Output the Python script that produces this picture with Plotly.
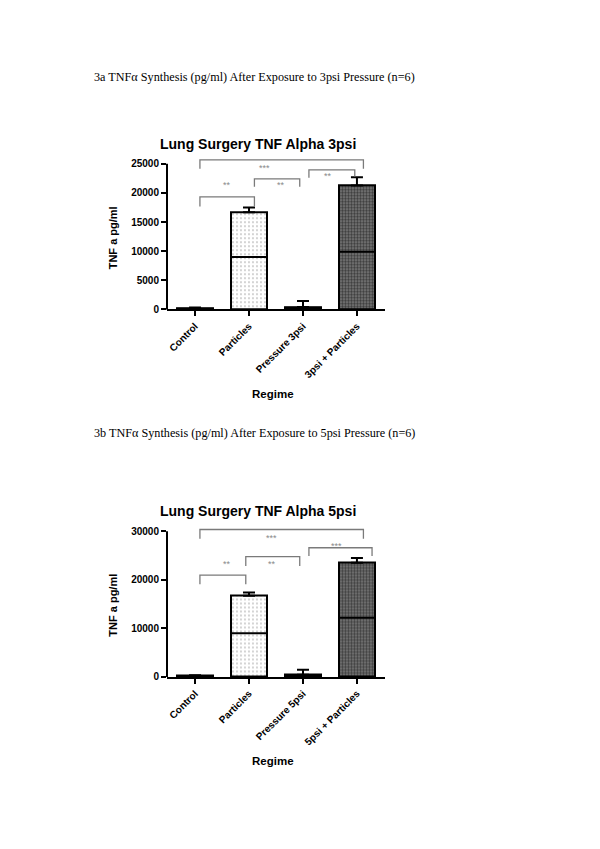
import plotly.graph_objects as go

# ---------------- data ----------------
categories_a = ["Control", "Particles", "Pressure 3psi", "3psi + Particles"]
means_a = [250, 16700, 450, 21300]
medians_a = [150, 9000, 300, 9900]
err_up_a = [100, 800, 1000, 1400]

categories_b = ["Control", "Particles", "Pressure 5psi", "5psi + Particles"]
means_b = [250, 16700, 450, 23500]
medians_b = [150, 9000, 300, 12200]
err_up_b = [100, 700, 1000, 1000]

yticks_a = [0, 5000, 10000, 15000, 20000, 25000]
yticks_b = [0, 10000, 20000, 30000]

# significance brackets: (from, to, line y, drop y left, drop y right, label, label x, label y)
sig_a = [
    (0.09, 3.12, 25680, 24150, 24150, "***", 1.28, 24320),
    (0.09, 1.10, 19330, 17670, 17670, "**", 0.59, 21300),
    (1.10, 1.94, 22440, 21080, 21080, "**", 1.60, 21300),
    (2.11, 2.96, 23980, 22610, 22840, "**", 2.46, 22840),
]
sig_b = [
    (0.09, 3.12, 30350, 28430, 28430, "***", 1.42, 28630),
    (0.09, 0.94, 20940, 19100, 19100, "**", 0.59, 23190),
    (0.94, 1.94, 24750, 22840, 22840, "**", 1.42, 23310),
    (2.11, 3.28, 26590, 24890, 24890, "***", 2.62, 26930),
]

captions = [
    "3a TNF\u03b1 Synthesis (pg/ml) After Exposure to 3psi Pressure (n=6)",
    "3b TNF\u03b1 Synthesis (pg/ml) After Exposure to 5psi Pressure (n=6)",
]
titles = ["Lung Surgery TNF Alpha 3psi", "Lung Surgery TNF Alpha 5psi"]
ytitle = "TNF a pg/ml"
xtitle = "Regime"

# ---------------- layout geometry ----------------
W, H = 600, 849
BAR_W = 0.68
XDOM = [167 / W, 385 / W]
XRANGE = [-0.52, 3.52]

panels = [
    dict(cats=categories_a, means=means_a, med=medians_a, err=err_up_a,
         yt=yticks_a, sig=sig_a, ymax=27000, top=25000,
         dom=[(H - 311.7) / H, (H - 153.3) / H],
         title_y=145, ytitle_y=240, xtitle_y=396.7, cap_y=78,
         cap=captions[0], title=titles[0]),
    dict(cats=categories_b, means=means_b, med=medians_b, err=err_up_b,
         yt=yticks_b, sig=sig_b, ymax=32000, top=30000,
         dom=[(H - 681.7) / H, (H - 525.2) / H],
         title_y=515, ytitle_y=610, xtitle_y=766.7, cap_y=436,
         cap=captions[1], title=titles[1]),
]

SANS = "Liberation Sans, Arial, sans-serif"
SERIF = "Liberation Serif, Times New Roman, serif"

fig = go.Figure()
shapes = []
annotations = []

pattern_shape = ["", ".", "", "."]
pattern_bg = ["white", "white", "white", "#7a7a7a"]
pattern_fg = ["#888888", "#8a8a8a", "#888888", "#000000"]
pattern_size = [4, 4, 4, 3]
pattern_sol = [0.2, 0.18, 0.2, 0.5]

for k, p in enumerate(panels, start=1):
    xa = "x" if k == 1 else f"x{k}"
    ya = "y" if k == 1 else f"y{k}"
    xs = list(range(len(p["cats"])))
    fig.add_trace(go.Bar(
        x=xs, y=p["means"], width=BAR_W, xaxis=xa, yaxis=ya,
        marker=dict(color="white", line=dict(color="black", width=2),
                    pattern=dict(shape=pattern_shape, bgcolor=pattern_bg,
                                 fgcolor=pattern_fg, size=pattern_size,
                                 solidity=pattern_sol, fillmode="overlay")),
        error_y=dict(type="data", symmetric=False, array=p["err"],
                     arrayminus=[0] * len(xs), color="black",
                     thickness=2, width=6),
        showlegend=False, hoverinfo="skip",
    ))
    # median lines
    for i, m in enumerate(p["med"]):
        shapes.append(dict(type="line", xref=xa, yref=ya,
                           x0=i - BAR_W / 2, x1=i + BAR_W / 2, y0=m, y1=m,
                           line=dict(color="black", width=2)))
    # significance brackets
    for (a, b, yl, yd0, yd1, lab, lx, ly) in p["sig"]:
        shapes.append(dict(type="path", xref=xa, yref=ya,
                           path=f"M {a},{yd0} L {a},{yl} L {b},{yl} L {b},{yd1}",
                           line=dict(color="#7a7a7a", width=1.3)))
        annotations.append(dict(xref=xa, yref=ya, x=lx, y=ly, text=lab,
                                showarrow=False,
                                font=dict(family=SANS, size=9, color="#8a8a8a")))
    # y axis line stopping at the top tick
    d0, d1 = p["dom"]
    ytop_paper = d0 + (d1 - d0) * p["top"] / p["ymax"]
    shapes.append(dict(type="line", xref="paper", yref="paper",
                       x0=XDOM[0], x1=XDOM[0], y0=d0, y1=ytop_paper,
                       line=dict(color="black", width=2)))
    # axes
    fig.update_layout(**{
        ("xaxis" if k == 1 else f"xaxis{k}"): dict(
            domain=XDOM, anchor=ya, range=XRANGE, tickmode="array",
            tickvals=xs, ticktext=p["cats"], tickangle=-45,
            ticks="outside", ticklen=5, tickwidth=2, tickcolor="black",
            showline=True, linecolor="black", linewidth=2,
            showgrid=False, zeroline=False, fixedrange=True,
            tickfont=dict(family=SANS, size=10, color="black", weight="bold")),
        ("yaxis" if k == 1 else f"yaxis{k}"): dict(
            domain=p["dom"], anchor=xa, range=[0, p["ymax"]], tickmode="array",
            tickvals=p["yt"], ticktext=[str(v) for v in p["yt"]],
            ticks="outside", ticklen=5, tickwidth=2, tickcolor="black",
            showline=False, showgrid=False, zeroline=False, fixedrange=True,
            tickfont=dict(family=SANS, size=10, color="black", weight="bold")),
    })
    # texts
    annotations.append(dict(xref="paper", yref="paper", x=92 / W, y=1 - p["cap_y"] / H,
                            xanchor="left", yanchor="middle", showarrow=False,
                            text=p["cap"], font=dict(family=SERIF, size=12.2, color="black")))
    annotations.append(dict(xref="paper", yref="paper", x=258.3 / W, y=1 - p["title_y"] / H,
                            xanchor="center", yanchor="middle", showarrow=False,
                            text=p["title"],
                            font=dict(family=SANS, size=14, color="black", weight="bold")))
    annotations.append(dict(xref="paper", yref="paper", x=113 / W, y=1 - p["ytitle_y"] / H,
                            xanchor="center", yanchor="middle", showarrow=False,
                            textangle=-90, text=ytitle,
                            font=dict(family=SANS, size=11, color="black", weight="bold")))
    annotations.append(dict(xref="paper", yref="paper", x=273.3 / W, y=1 - p["xtitle_y"] / H,
                            xanchor="center", yanchor="middle", showarrow=False,
                            text=xtitle,
                            font=dict(family=SANS, size=11.5, color="black", weight="bold")))

fig.update_layout(width=W, height=H, margin=dict(l=0, r=0, t=0, b=0),
                  paper_bgcolor="white", plot_bgcolor="white",
                  shapes=shapes, annotations=annotations, bargap=0)
fig.write_html("out.html", config={"displayModeBar": False},
               post_script="document.body.style.margin='0';document.body.style.padding='0';")
